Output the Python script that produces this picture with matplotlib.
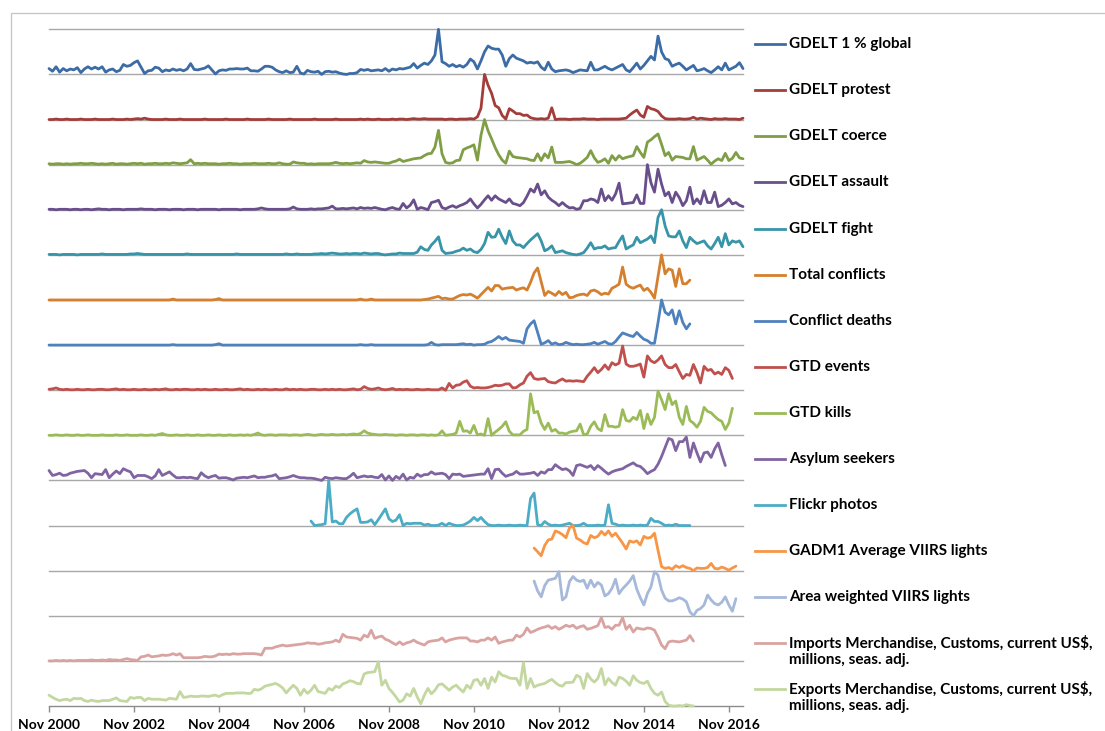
import numpy as np
import matplotlib
matplotlib.use("Agg")
import matplotlib.pyplot as plt
from matplotlib.lines import Line2D
from matplotlib.patches import Rectangle

# ---------------------------------------------------------------------------
# Monthly indicators, Nov 2000 = month 0.  Each series is scaled 0..100 within
# its own band of the stacked chart.
# ---------------------------------------------------------------------------
tick_months = [0, 24, 48, 72, 96, 120, 144, 168, 192]
tick_labels = ["Nov 2000", "Nov 2002", "Nov 2004", "Nov 2006", "Nov 2008",
               "Nov 2010", "Nov 2012", "Nov 2014", "Nov 2016"]

gdelt_global = [
    13, 7, 17, 5, 13, 8, 12, 10, 15, 4,
    12, 17, 12, 16, 12, 17, 5, 10, 12, 6,
    9, 22, 18, 20, 26, 30, 16, 2, 8, 9,
    16, 14, 6, 10, 8, 12, 9, 11, 8, 12,
    24, 11, 10, 12, 14, 19, 10, 1, 8, 10,
    9, 12, 12, 13, 12, 12, 14, 8, 8, 7,
    12, 18, 18, 16, 10, 6, 4, 8, 4, 5,
    18, 3, 1, 9, 6, 5, 7, 0, 6, 7,
    5, 6, 3, 1, 0, 2, 2, 4, 11, 9,
    11, 8, 9, 10, 8, 13, 7, 12, 10, 13,
    12, 14, 16, 24, 14, 20, 25, 22, 30, 43,
    100, 28, 24, 18, 22, 17, 20, 16, 22, 34,
    28, 12, 30, 50, 63, 58, 56, 56, 43, 18,
    35, 43, 36, 33, 30, 25, 27, 25, 28, 16,
    10, 27, 12, 6, 8, 9, 10, 8, 4, 7,
    10, 9, 8, 27, 10, 10, 14, 18, 13, 10,
    14, 18, 22, 10, 6, 15, 25, 12, 20, 30,
    40, 32, 85, 50, 35, 32, 18, 22, 25, 18,
    10, 15, 20, 8, 10, 13, 8, 4, 10, 17,
    10, 25, 10, 14, 18, 26, 13]

gdelt_protest = [
    0, 0, 1, 0, 0, 1, 0, 0, 0, 1,
    0, 0, 0, 1, 0, 0, 0, 0, 1, 0,
    0, 0, 1, 0, 1, 2, 1, 3, 1, 0,
    0, 0, 0, 1, 0, 0, 0, 1, 0, 0,
    0, 0, 0, 0, 1, 0, 0, 0, 0, 0,
    1, 0, 0, 0, 0, 0, 1, 0, 0, 0,
    0, 0, 1, 0, 0, 0, 0, 0, 1, 0,
    0, 0, 0, 0, 0, 1, 0, 0, 0, 0,
    0, 1, 0, 0, 0, 0, 0, 0, 1, 0,
    1, 0, 0, 1, 0, 0, 0, 1, 0, 1,
    1, 0, 1, 2, 1, 1, 2, 1, 1, 1,
    1, 1, 0, 1, 1, 0, 1, 1, 1, 2,
    1, 6, 25, 100, 76, 58, 31, 26, 9, 1,
    24, 19, 13, 13, 9, 10, 4, 2, 1, 2,
    1, 3, 26, 0, 1, 1, 1, 0, 1, 1,
    1, 2, 1, 1, 1, 0, 1, 1, 1, 1,
    1, 1, 2, 3, 10, 16, 21, 10, 5, 29,
    24, 22, 18, 8, 2, 1, 1, 1, 2, 1,
    1, 2, 5, 1, 3, 2, 1, 0, 2, 1,
    1, 2, 1, 1, 1, 0, 3]

gdelt_coerce = [
    2, 1, 2, 2, 1, 2, 1, 2, 2, 3,
    2, 2, 3, 2, 1, 2, 1, 2, 3, 1,
    2, 2, 1, 2, 3, 2, 3, 1, 2, 2,
    3, 2, 2, 3, 2, 4, 3, 2, 3, 4,
    11, 2, 3, 2, 3, 2, 2, 2, 1, 2,
    2, 3, 2, 2, 1, 2, 2, 2, 3, 2,
    2, 2, 3, 2, 2, 4, 2, 1, 1, 6,
    4, 3, 3, 1, 2, 1, 2, 2, 2, 2,
    3, 5, 3, 2, 3, 2, 3, 4, 3, 9,
    6, 5, 6, 5, 4, 3, 3, 6, 8, 12,
    7, 9, 11, 13, 14, 15, 20, 24, 25, 39,
    76, 24, 5, 3, 4, 9, 10, 33, 37, 40,
    44, 10, 65, 100, 75, 57, 38, 22, 10, 3,
    30, 18, 16, 15, 14, 13, 10, 9, 24, 9,
    24, 15, 39, 5, 5, 5, 6, 7, 4, 0,
    3, 9, 16, 31, 15, 5, 8, 13, 3, 20,
    10, 20, 13, 16, 18, 20, 40, 27, 16, 50,
    55, 62, 68, 45, 20, 27, 10, 18, 17, 16,
    13, 13, 40, 10, 14, 18, 10, 1, 8, 13,
    9, 25, 9, 14, 27, 15, 13]

gdelt_assault = [
    1, 1, 0, 1, 1, 1, 0, 1, 1, 0,
    1, 1, 0, 1, 2, 1, 1, 0, 1, 1,
    1, 0, 1, 1, 1, 1, 2, 1, 1, 1,
    0, 1, 1, 1, 0, 1, 1, 1, 0, 1,
    1, 1, 0, 1, 1, 1, 1, 1, 0, 1,
    1, 1, 1, 1, 0, 1, 1, 1, 1, 2,
    4, 2, 1, 1, 1, 1, 1, 1, 2, 6,
    2, 1, 1, 1, 2, 1, 2, 2, 3, 4,
    8, 2, 2, 3, 2, 3, 4, 2, 5, 3,
    4, 3, 5, 3, 1, 0, 3, 5, 2, 1,
    14, 4, 10, 22, 1, 5, 3, 0, 16, 18,
    21, 5, 2, 6, 9, 5, 9, 12, 16, 24,
    13, 4, 12, 22, 31, 21, 31, 24, 20, 16,
    24, 14, 12, 9, 16, 30, 46, 39, 57, 33,
    42, 28, 21, 16, 9, 16, 9, 4, 5, 1,
    3, 20, 20, 24, 22, 16, 46, 20, 31, 21,
    35, 59, 13, 14, 15, 16, 33, 14, 14, 100,
    60, 39, 90, 57, 31, 39, 16, 39, 27, 9,
    20, 50, 13, 24, 13, 42, 16, 16, 39, 7,
    10, 16, 24, 13, 16, 10, 7]

gdelt_fight = [
    1, 1, 1, 0, 1, 1, 1, 1, 0, 1,
    1, 1, 1, 1, 1, 2, 1, 1, 1, 1,
    1, 1, 1, 2, 2, 3, 2, 1, 1, 1,
    1, 1, 1, 1, 1, 1, 1, 1, 1, 2,
    1, 1, 1, 1, 1, 1, 1, 1, 1, 1,
    1, 1, 1, 2, 1, 1, 1, 1, 1, 1,
    1, 1, 1, 1, 1, 1, 1, 2, 1, 1,
    2, 1, 1, 1, 1, 2, 2, 3, 2, 3,
    4, 3, 2, 2, 3, 2, 3, 3, 2, 4,
    3, 2, 3, 3, 1, 0, 1, 2, 2, 4,
    3, 3, 3, 3, 6, 18, 12, 10, 22, 30,
    40, 10, 3, 4, 5, 8, 10, 15, 10, 13,
    7, 5, 12, 25, 50, 39, 40, 57, 39, 25,
    53, 31, 22, 22, 16, 25, 33, 40, 47, 31,
    9, 13, 20, 5, 7, 9, 5, 3, 1, 0,
    2, 5, 15, 27, 13, 16, 16, 20, 13, 15,
    16, 30, 42, 13, 18, 22, 39, 27, 31, 35,
    42, 27, 83, 100, 64, 42, 40, 40, 53, 31,
    16, 39, 31, 25, 28, 31, 20, 13, 25, 39,
    18, 47, 22, 31, 28, 31, 18]

total_conflicts = [
    0, 0, 0, 0, 0, 0, 0, 0, 0, 0,
    0, 0, 0, 0, 0, 0, 0, 0, 0, 0,
    0, 0, 0, 0, 0, 0, 0, 0, 0, 0,
    0, 0, 0, 0, 0, 2, 0, 0, 0, 0,
    0, 0, 0, 0, 0, 0, 0, 1, 3, 0,
    0, 0, 0, 0, 0, 0, 0, 0, 0, 0,
    0, 0, 0, 0, 0, 0, 0, 0, 0, 0,
    0, 0, 0, 0, 0, 0, 0, 0, 0, 0,
    0, 0, 0, 0, 0, 0, 0, 0, 2, 0,
    0, 2, 0, 0, 0, 0, 0, 0, 0, 0,
    0, 0, 0, 0, 0, 0, 1, 2, 4, 6,
    8, 3, 4, 2, 2, 6, 10, 12, 11, 13,
    9, 4, 12, 20, 28, 20, 32, 32, 24, 26,
    27, 28, 22, 25, 27, 22, 39, 60, 71, 40,
    10, 19, 15, 10, 19, 12, 17, 5, 6, 10,
    12, 13, 10, 20, 22, 18, 12, 15, 13, 26,
    30, 35, 73, 35, 29, 26, 30, 33, 21, 26,
    17, 4, 52, 100, 58, 69, 66, 30, 69, 36,
    36, 44]

conflict_deaths = [
    0, 0, 0, 0, 0, 0, 0, 0, 0, 0,
    0, 0, 0, 0, 0, 0, 0, 0, 0, 0,
    0, 0, 0, 0, 0, 0, 0, 0, 0, 0,
    0, 0, 0, 0, 0, 1, 0, 0, 0, 0,
    0, 0, 0, 0, 0, 0, 0, 1, 3, 0,
    0, 0, 0, 0, 0, 0, 0, 0, 0, 0,
    0, 0, 0, 0, 0, 0, 0, 0, 0, 0,
    0, 0, 0, 0, 0, 0, 0, 0, 0, 0,
    0, 0, 0, 0, 0, 0, 0, 0, 1, 0,
    0, 1, 0, 0, 0, 0, 0, 0, 0, 0,
    0, 0, 0, 0, 0, 0, 0, 1, 6, 1,
    0, 1, 1, 1, 1, 1, 2, 3, 1, 2,
    0, 1, 1, 2, 6, 8, 13, 19, 13, 17,
    11, 10, 9, 8, 4, 36, 47, 54, 28, 2,
    5, 10, 2, 5, 1, 2, 6, 3, 1, 2,
    1, 1, 2, 3, 6, 2, 5, 8, 3, 2,
    8, 18, 27, 24, 21, 19, 28, 20, 13, 10,
    4, 4, 50, 100, 73, 67, 78, 47, 76, 50,
    36, 47]

gtd_events = [
    2, 3, 5, 2, 1, 2, 1, 1, 2, 1,
    1, 2, 1, 1, 2, 2, 1, 1, 2, 3,
    1, 2, 1, 1, 2, 1, 1, 2, 1, 1,
    2, 1, 2, 3, 1, 1, 2, 1, 2, 2,
    1, 1, 2, 1, 2, 1, 1, 2, 1, 1,
    2, 1, 1, 2, 3, 1, 2, 1, 1, 2,
    1, 2, 1, 1, 2, 1, 1, 3, 1, 2,
    1, 2, 1, 1, 2, 2, 1, 1, 2, 1,
    2, 1, 2, 1, 1, 2, 3, 1, 2, 8,
    4, 2, 3, 5, 2, 1, 2, 4, 1, 2,
    1, 2, 1, 1, 2, 1, 1, 2, 1, 1,
    1, 5, 0, 15, 5, 11, 12, 18, 21, 9,
    5, 6, 5, 5, 6, 8, 11, 10, 11, 14,
    14, 5, 6, 12, 16, 31, 39, 26, 24, 25,
    26, 19, 17, 16, 21, 25, 20, 21, 20, 21,
    20, 19, 31, 40, 50, 39, 46, 56, 46, 61,
    56, 60, 98, 58, 53, 53, 55, 58, 29, 76,
    65, 61, 67, 76, 57, 50, 50, 57, 41, 26,
    35, 33, 57, 39, 16, 53, 44, 46, 36, 40,
    35, 50, 44, 26]

gtd_kills = [
    0, 0, 1, 0, 0, 1, 0, 0, 1, 0,
    0, 1, 0, 0, 0, 1, 0, 0, 0, 1,
    0, 0, 1, 0, 0, 0, 1, 0, 0, 1,
    0, 2, 4, 1, 0, 0, 1, 0, 0, 1,
    0, 0, 1, 0, 0, 1, 0, 0, 1, 0,
    0, 1, 0, 0, 1, 0, 1, 0, 2, 5,
    1, 0, 1, 1, 0, 1, 1, 1, 0, 1,
    1, 0, 1, 2, 1, 0, 1, 2, 1, 1,
    2, 1, 1, 2, 1, 2, 3, 2, 4, 10,
    5, 3, 2, 1, 1, 2, 1, 1, 0, 1,
    1, 0, 1, 1, 0, 1, 1, 0, 1, 0,
    1, 10, 0, 1, 2, 5, 31, 9, 10, 5,
    22, 1, 3, 0, 37, 0, 7, 13, 20, 30,
    9, 1, 1, 1, 9, 13, 92, 50, 53, 27,
    13, 27, 9, 13, 5, 5, 3, 7, 9, 10,
    25, 1, 3, 20, 30, 15, 10, 46, 20, 20,
    18, 20, 57, 33, 31, 40, 35, 55, 15, 47,
    24, 40, 98, 79, 57, 92, 68, 76, 40, 24,
    64, 33, 27, 18, 31, 62, 53, 50, 42, 35,
    31, 13, 27, 60]

asylum_seekers = [
    22, 11, 13, 16, 11, 12, 16, 18, 20, 21,
    22, 16, 6, 15, 14, 13, 24, 6, 14, 21,
    15, 26, 22, 19, 6, 11, 11, 11, 8, 4,
    10, 24, 11, 15, 19, 12, 6, 6, 7, 6,
    7, 5, 4, 17, 10, 6, 9, 11, 5, 6,
    6, 4, 1, 5, 6, 7, 6, 8, 10, 6,
    7, 7, 9, 10, 13, 4, 5, 6, 8, 11,
    8, 6, 6, 5, 5, 4, 2, 0, 7, 5,
    4, 6, 5, 4, 4, 9, 16, 6, 8, 10,
    8, 9, 7, 6, 13, 1, 10, 0, 9, 4,
    14, 1, 7, 5, 14, 9, 13, 13, 19, 14,
    15, 16, 13, 4, 14, 13, 14, 9, 10, 11,
    12, 13, 14, 14, 26, 4, 24, 25, 16, 9,
    12, 14, 20, 14, 14, 15, 16, 18, 11, 19,
    16, 24, 24, 35, 29, 24, 26, 21, 11, 33,
    35, 32, 29, 33, 24, 33, 27, 20, 14, 19,
    22, 24, 26, 31, 35, 39, 33, 31, 24, 15,
    20, 24, 36, 53, 73, 93, 90, 66, 86, 86,
    96, 51, 83, 61, 41, 61, 63, 51, 70, 83,
    57, 33]

flickr_photos = [  # from Jan 2007 (month 74)
    10, 0, 1, 2, 4, 100, 8, 10, 4, 4,
    18, 26, 32, 37, 7, 7, 8, 13, 2, 13,
    25, 37, 15, 9, 12, 24, 0, 5, 4, 5,
    5, 5, 1, 3, 0, 0, 1, 5, 0, 5,
    2, 0, 0, 1, 5, 10, 18, 11, 18, 9,
    2, 0, 0, 1, 0, 0, 1, 0, 0, 1,
    0, 0, 60, 72, 2, 0, 9, 3, 0, 1,
    0, 1, 3, 5, 0, 0, 1, 5, 0, 0,
    0, 1, 0, 1, 46, 5, 3, 0, 1, 0,
    0, 1, 0, 1, 0, 1, 16, 9, 9, 5,
    0, 1, 0, 3, 0, 0, 0, 0]

gadm1_viirs = [  # from Apr 2012 (month 137)
    50, 42, 33, 56, 68, 70, 88, 85, 80, 73,
    95, 100, 72, 68, 62, 59, 78, 73, 76, 87,
    79, 88, 76, 83, 72, 61, 48, 66, 63, 66,
    57, 76, 72, 74, 83, 45, 9, 5, 7, 3,
    11, 7, 11, 7, 5, 0, 6, 5, 5, 7,
    16, 5, 4, 8, 5, 1, 6, 10]

area_viirs = [  # from Apr 2012 (month 137)
    77, 55, 42, 67, 79, 81, 83, 98, 35, 42,
    76, 87, 79, 76, 79, 61, 79, 64, 74, 68,
    44, 49, 61, 81, 49, 60, 68, 77, 89, 59,
    40, 24, 49, 64, 98, 90, 57, 39, 33, 33,
    36, 40, 37, 31, 9, 0, 12, 16, 24, 46,
    35, 27, 24, 30, 42, 24, 10, 38]

imports_merch = [
    0, 0, 1, 0, 1, 0, 1, 0, 1, 1,
    1, 1, 2, 1, 1, 2, 1, 3, 2, 2,
    1, 3, 5, 3, 2, 1, 9, 10, 13, 9,
    10, 11, 13, 12, 13, 16, 13, 16, 7, 7,
    7, 7, 7, 8, 10, 9, 9, 11, 15, 14,
    15, 14, 16, 15, 15, 16, 16, 16, 16, 15,
    13, 28, 28, 28, 31, 33, 35, 33, 34, 35,
    36, 37, 38, 40, 39, 39, 37, 38, 40, 41,
    42, 46, 42, 59, 53, 52, 51, 50, 46, 57,
    53, 68, 50, 53, 55, 48, 45, 40, 36, 42,
    36, 40, 42, 46, 41, 38, 35, 42, 44, 45,
    46, 51, 42, 46, 48, 50, 51, 51, 51, 44,
    44, 42, 46, 46, 51, 46, 53, 39, 42, 44,
    46, 46, 57, 53, 59, 73, 63, 66, 70, 73,
    75, 78, 72, 76, 70, 74, 79, 76, 79, 72,
    76, 78, 70, 72, 75, 78, 96, 74, 76, 70,
    79, 79, 96, 70, 79, 64, 73, 71, 70, 73,
    72, 68, 53, 35, 27, 42, 44, 43, 42, 44,
    46, 56, 44]

exports_merch = [
    24, 19, 15, 12, 14, 15, 12, 17, 16, 17,
    12, 10, 13, 11, 10, 12, 12, 12, 15, 18,
    12, 11, 10, 19, 17, 19, 19, 12, 17, 15,
    15, 15, 14, 13, 17, 16, 15, 32, 19, 20,
    22, 21, 21, 22, 22, 21, 23, 24, 21, 25,
    28, 28, 28, 29, 29, 29, 28, 28, 37, 35,
    38, 44, 46, 48, 50, 46, 40, 29, 38, 46,
    39, 24, 37, 28, 35, 46, 32, 30, 28, 39,
    35, 44, 41, 49, 52, 56, 54, 50, 49, 71,
    74, 75, 76, 98, 46, 57, 39, 30, 20, 9,
    13, 27, 22, 39, 20, 5, 24, 39, 27, 35,
    47, 49, 42, 35, 42, 46, 38, 31, 46, 39,
    57, 59, 46, 61, 39, 64, 53, 76, 68, 66,
    62, 61, 61, 46, 96, 39, 61, 42, 46, 48,
    50, 55, 59, 52, 46, 44, 52, 52, 53, 68,
    64, 39, 72, 60, 53, 61, 83, 47, 61, 52,
    46, 64, 61, 55, 46, 67, 57, 52, 50, 55,
    39, 28, 24, 31, 10, 2, 0, 0, 1, 0,
    3, 1, 0]

series_names = [
    "GDELT 1 % global", "GDELT protest", "GDELT coerce", "GDELT assault",
    "GDELT fight", "Total conflicts", "Conflict deaths", "GTD events",
    "GTD kills", "Asylum seekers", "Flickr photos",
    "GADM1 Average VIIRS lights", "Area weighted VIIRS lights",
    "Imports Merchandise, Customs, current US$,\nmillions, seas. adj.",
    "Exports Merchandise, Customs, current US$,\nmillions, seas. adj.",
]
series_values = [
    gdelt_global, gdelt_protest, gdelt_coerce, gdelt_assault, gdelt_fight,
    total_conflicts, conflict_deaths, gtd_events, gtd_kills, asylum_seekers,
    flickr_photos, gadm1_viirs, area_viirs, imports_merch, exports_merch,
]
series_start = [0, 0, 0, 0, 0, 0, 0, 0, 0, 0, 74, 137, 137, 0, 0]
series_colors = [
    "#3C6CA6", "#A43D3A", "#7F9E45", "#684F8B", "#3894A8", "#D5802F",
    "#4F81BD", "#C0504D", "#9BBB59", "#8064A2", "#4BACC6", "#F79646",
    "#A6B9DA", "#D9A3A2", "#C4D7A0",
]

# ---------------------------------------------------------------------------
W, H, DPI = 1105, 731, 100
FONT = "Lato"


def fx(px):
    return px / W


def fy(py):
    return 1.0 - py / H


fig = plt.figure(figsize=(W / DPI, H / DPI), dpi=DPI)
fig.patch.set_facecolor("white")

# chart-area frame
fig.patches.append(Rectangle((fx(10.5), fy(740)), fx(1200), fy(13.3) - fy(740),
                             transform=fig.transFigure, fill=False,
                             edgecolor="#C4C4C4", linewidth=0.9))

left, right, top, bottom = 49, 743, 29.3, 706
ax = fig.add_axes([fx(left), fy(bottom), fx(right) - fx(left), fy(top) - fy(bottom)])

n = len(series_values)
for k in range(1, n + 1):
    ax.axhline(k, color="#A8A8A8", linewidth=1.0, zorder=1, clip_on=False)

for i, (vals, start, color) in enumerate(zip(series_values, series_start, series_colors)):
    x = start + np.arange(len(vals))
    y = (n - 1 - i) + np.asarray(vals, dtype=float) / 100.0
    ax.plot(x, y, color=color, linewidth=2.0, solid_joinstyle="round",
            solid_capstyle="round", zorder=3, clip_on=False)

ax.set_xlim(0, 196)
ax.set_ylim(0, n)
ax.set_yticks([])
for side in ("left", "right", "top"):
    ax.spines[side].set_visible(False)
ax.spines["bottom"].set_color("#8C8C8C")
ax.spines["bottom"].set_linewidth(1.0)
ax.set_xticks(tick_months)
ax.set_xticklabels(tick_labels, fontsize=10, fontweight="bold", family=FONT)
ax.tick_params(axis="x", direction="out", length=4, width=1.0, color="#8C8C8C", pad=5.5)

# legend, one row per band
for i, (name, color) in enumerate(zip(series_names, series_colors)):
    yc = 44.3 + 46.05 * i
    fig.add_artist(Line2D([fx(755), fx(785)], [fy(yc), fy(yc)], color=color,
                          linewidth=2.0, transform=fig.transFigure))
    for j, line in enumerate(name.split("\n")):
        fig.text(fx(789), fy(yc + 17 * j), line, ha="left", va="center",
                 fontsize=11, fontweight="bold", family=FONT, color="black")

fig.savefig("out.png", dpi=DPI, facecolor="white")
